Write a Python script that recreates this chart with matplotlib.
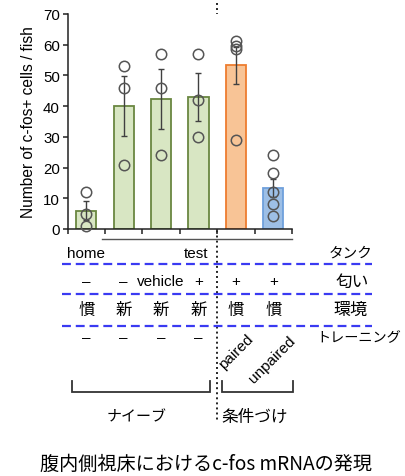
import numpy as np
import matplotlib
matplotlib.use("Agg")
import matplotlib.pyplot as plt
import matplotlib.transforms as mtransforms

# ---- data ----
groups = ["home", "test", "vehicle", "+", "paired", "unpaired"]
means = [6.0, 40.0, 42.3, 43.0, 53.3, 13.3]
sem = [3.2, 9.7, 9.7, 7.8, 6.0, 2.9]
points = [
    [12, 5, 1],
    [53, 46, 21],
    [57, 46, 24],
    [57, 42, 30],
    [61.3, 59.7, 58.6, 29.1],
    [24.2, 18.1, 12.1, 8.1, 4.1],
]
odor_row = ["–", "–", "vehicle", "+", "+", "+"]
env_row = ["慣", "新", "新", "新", "慣", "慣"]
train_row = ["–", "–", "–", "–"]
train_labels = ["paired", "unpaired"]
row_titles = ["タンク", "匂い", "環境", "トレーニング"]
yticks = [0, 10, 20, 30, 40, 50, 60, 70]

fills = ["#d8e6c3"] * 4 + ["#f8c496", "#9dbfe6"]
edges = ["#6a8741"] * 4 + ["#ee7d2f", "#6fa0dc"]

LAT = ["Liberation Sans", "DejaVu Sans"]
JP = ["Noto Sans CJK JP", "DejaVu Sans"]

W, H = 405, 477
fig = plt.figure(figsize=(W / 100, H / 100), dpi=100)

def px(x0, y0, x1, y1):
    return [x0 / W, 1 - y1 / H, (x1 - x0) / W, (y1 - y0) / H]

ax = fig.add_axes(px(67.5, 15, 292, 230))
x = np.arange(len(means))
ax.bar(x, means, width=0.54, color=fills, edgecolor=edges, linewidth=1.3, zorder=2)
ax.errorbar(x, means, yerr=sem, fmt="none", ecolor="#404040", elinewidth=1.0,
            capsize=2, capthick=1.0, zorder=3)
for i, pts in enumerate(points):
    ax.plot([i] * len(pts), pts, "o", ms=7.5, mfc="none", mec="#555555",
            mew=1.1, zorder=4, clip_on=False)

ax.set_xlim(-0.5, 5.5)
ax.set_ylim(0, 70)
ax.set_yticks(yticks)
ax.set_xticks(np.arange(-0.5, 6.0, 1.0))
ax.set_xticklabels([])
for s in ["top", "right"]:
    ax.spines[s].set_visible(False)
for s in ["left", "bottom"]:
    ax.spines[s].set_color("#222222")
    ax.spines[s].set_linewidth(1.1)
ax.tick_params(axis="both", direction="out", length=3.5, width=1.1, color="#222222")
ax.tick_params(axis="y", labelsize=10.8, pad=2)
for t in ax.get_yticklabels():
    t.set_family(LAT)
ax.set_ylabel("Number of c-fos+ cells / fish", family=LAT, fontsize=11.2, labelpad=5)

# overlay in pixel coordinates for the annotation table
ov = fig.add_axes([0, 0, 1, 1], zorder=-1)
ov.set_xlim(0, W)
ov.set_ylim(H, 0)
ov.axis("off")
ov.patch.set_alpha(0)
bt = mtransforms.blended_transform_factory(ax.transData, ov.transData)

# dotted separator between naive and conditioned groups
ov.plot([3.5, 3.5], [4, 423], transform=bt, color="#222222", lw=1.4,
        linestyle=(0, (1.0, 1.6)), dash_capstyle="butt", clip_on=False)

# test-tank line
ov.plot([0.42, 5.5], [240, 240], transform=bt, color="#555555", lw=1.0, clip_on=False)

# blue dashed separators
for yy in [265, 295, 327]:
    ov.plot([62, 372], [yy, yy], color="#3a3af2", lw=1.6,
            linestyle=(0, (4, 2.2)), clip_on=False)

fs_row = 11
ov.text(0, 254, "home", transform=bt, ha="center", va="center", family=LAT, fontsize=fs_row)
ov.text(3.27, 254, "test", transform=bt, ha="right", va="center", family=LAT, fontsize=fs_row)

for i, s in enumerate(odor_row):
    ov.text(i, 282, s, transform=bt, ha="center", va="center", family=LAT, fontsize=fs_row)
for i, s in enumerate(env_row):
    ov.text(i, 310, s, transform=bt, ha="center", va="center", family=JP, fontsize=11.8)
for i, s in enumerate(train_row):
    ov.text(i, 338, s, transform=bt, ha="center", va="center", family=LAT, fontsize=fs_row)

ov.text(251, 337, train_labels[0], ha="right", va="center", rotation=45,
        rotation_mode="anchor", family=LAT, fontsize=11)
ov.text(293, 339, train_labels[1], ha="right", va="center", rotation=45,
        rotation_mode="anchor", family=LAT, fontsize=11)

ov.text(351, 254, row_titles[0], ha="center", va="center", family=JP, fontsize=10.5)
ov.text(352, 282, row_titles[1], ha="center", va="center", family=JP, fontsize=12)
ov.text(351, 310, row_titles[2], ha="center", va="center", family=JP, fontsize=12.3)
ov.text(359, 338, row_titles[3], ha="center", va="center", family=JP, fontsize=10.2)

# group brackets
for x0, x1 in [(72, 210), (222, 293)]:
    ov.plot([x0, x0, x1, x1], [382, 393, 393, 382], color="#333333", lw=1.3,
            clip_on=False, solid_joinstyle="miter")
ov.text(137, 417, "ナイーブ", ha="center", va="center", family=JP, fontsize=10.8)
ov.text(255, 417, "条件づけ", ha="center", va="center", family=JP, fontsize=12)

ov.text(206, 464, "腹内側視床におけるc-fos mRNAの発現", ha="center", va="center",
        family=JP, fontsize=13.8)

fig.savefig("out.png", dpi=100)
